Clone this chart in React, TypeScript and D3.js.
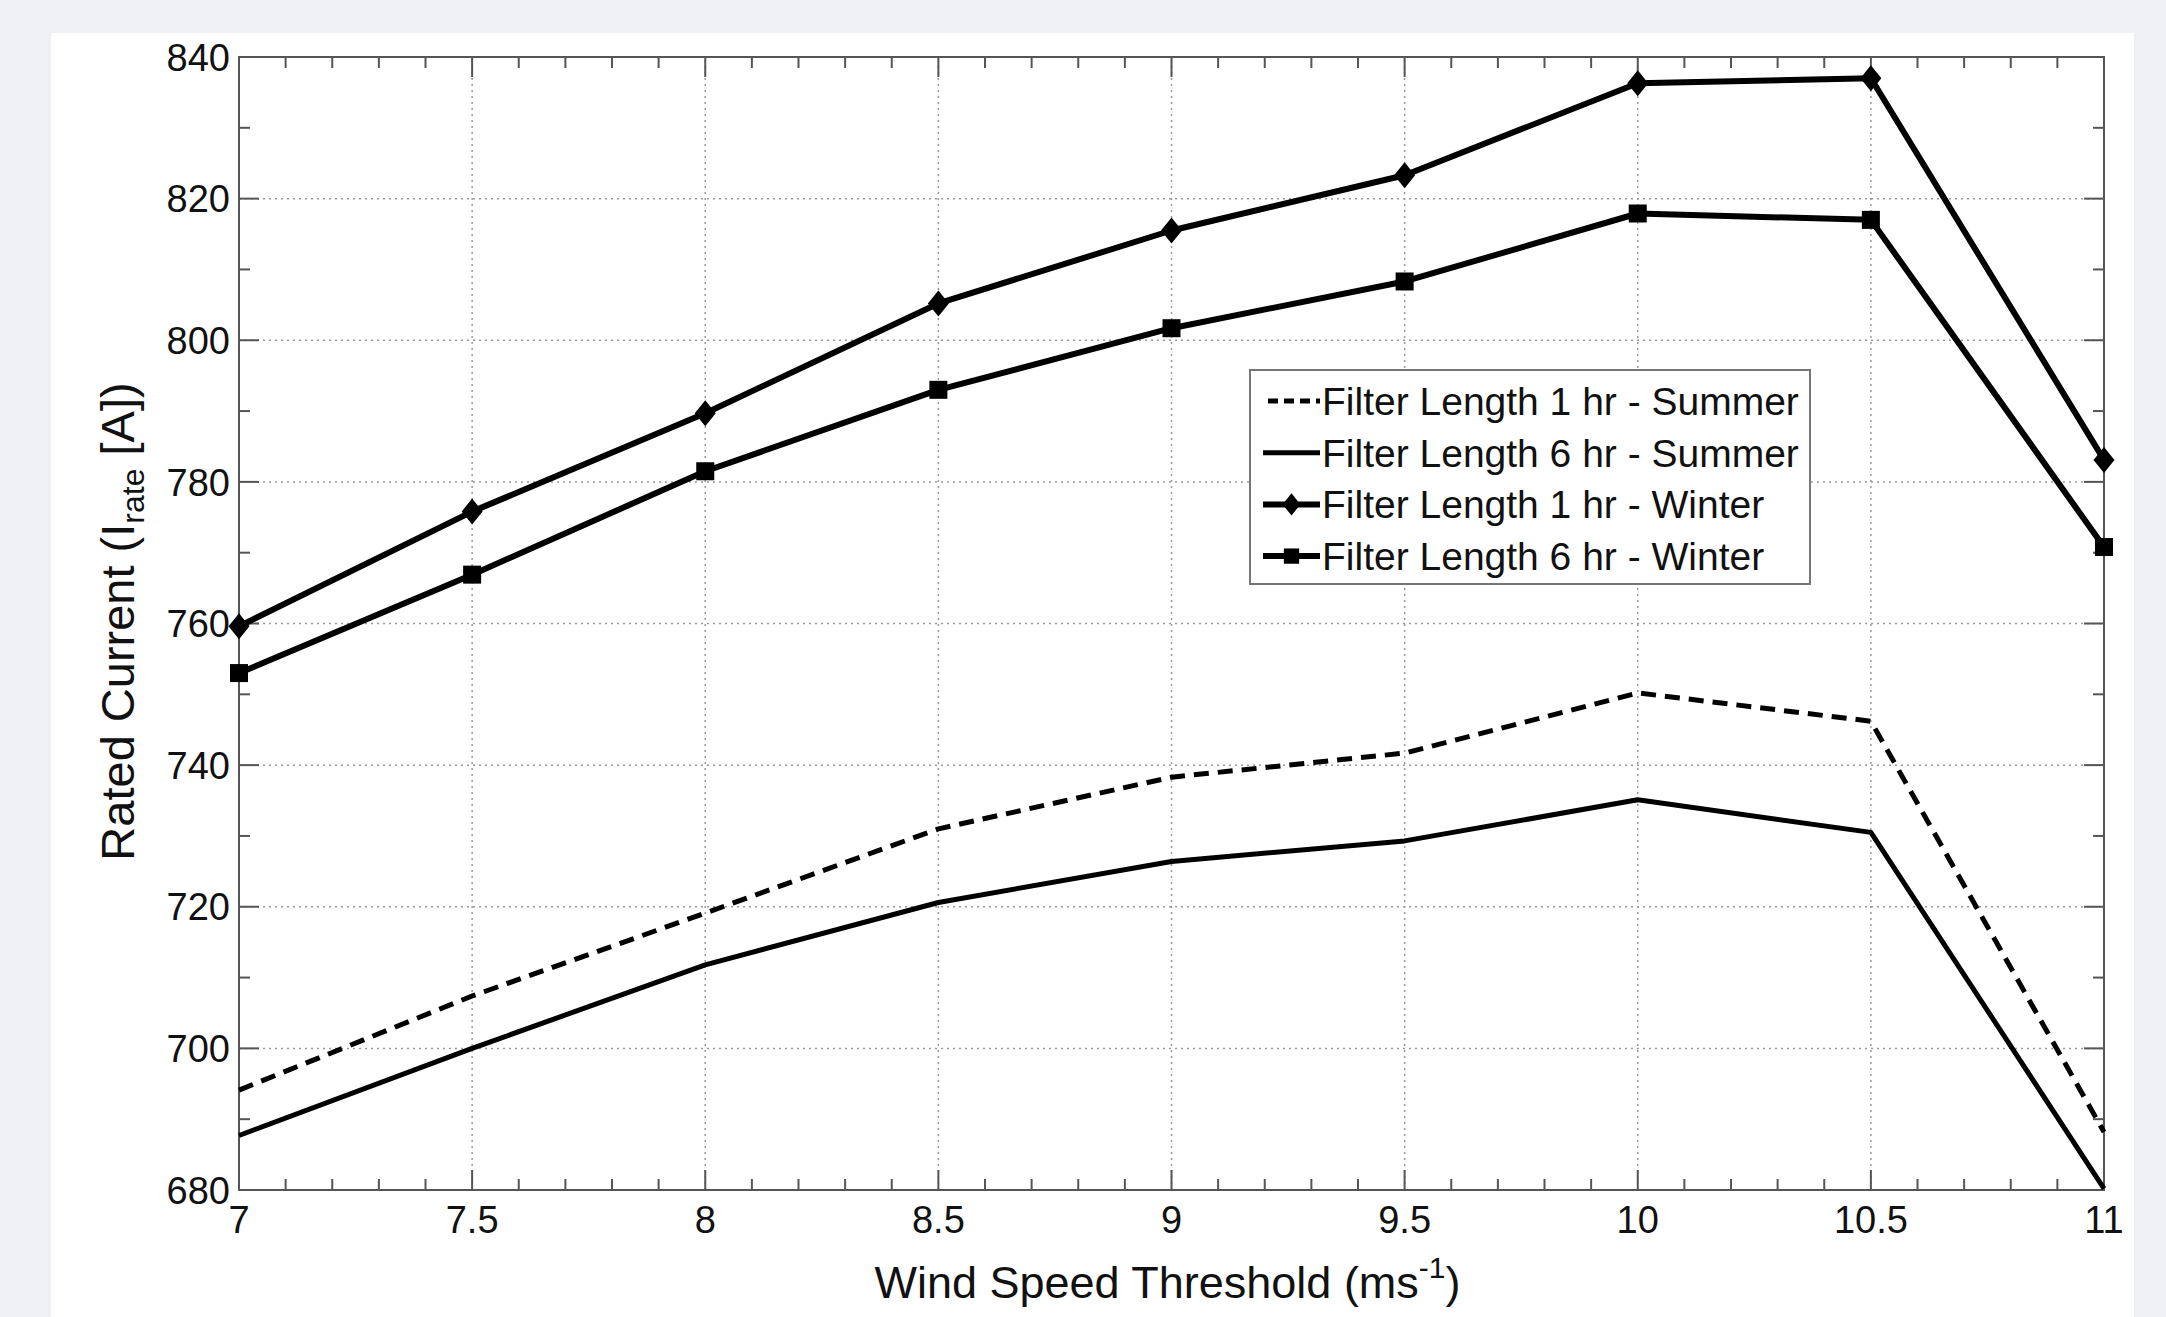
import React from 'react'
import * as d3 from 'd3'

// wind speed threshold (m/s)
const windSpeed = [7, 7.5, 8, 8.5, 9, 9.5, 10, 10.5, 11]

// rated current [A]
const summer1hr = [694.1, 707.4, 719.1, 731.0, 738.3, 741.7, 750.2, 746.2, 688.2]
const summer6hr = [687.7, 700.0, 711.8, 720.6, 726.4, 729.3, 735.1, 730.5, 680.2]
const winter1hr = [759.6, 775.8, 789.7, 805.2, 815.5, 823.3, 836.3, 837.0, 783.1]
const winter6hr = [753.0, 766.9, 781.5, 793.0, 801.7, 808.3, 817.9, 817.0, 770.8]

const seriesLabels = [
  'Filter Length 1 hr - Summer',
  'Filter Length 6 hr - Summer',
  'Filter Length 1 hr - Winter',
  'Filter Length 6 hr - Winter',
]

const xTickValues = [7, 7.5, 8, 8.5, 9, 9.5, 10, 10.5, 11]
const yTickValues = [680, 700, 720, 740, 760, 780, 800, 820, 840]

const FONT = '"Liberation Sans", Arial, Helvetica, sans-serif'

function diamondPath(cx: number, cy: number, w: number, h: number) {
  return `M${cx},${cy - h / 2}L${cx + w / 2},${cy}L${cx},${cy + h / 2}L${cx - w / 2},${cy}Z`
}

function Marker({ kind, cx, cy, scale = 1 }: { kind: string; cx: number; cy: number; scale?: number }) {
  if (kind === 'diamond') {
    return <path d={diamondPath(cx, cy, 21 * scale, 26 * scale)} fill="#000" />
  }
  if (kind === 'square') {
    const s = 18 * scale
    return <rect x={cx - s / 2} y={cy - s / 2} width={s} height={s} fill="#000" />
  }
  return null
}

export default function App() {
  const width = 2166
  const height = 1317

  const x = d3.scaleLinear().domain([7, 11]).range([239, 2104])
  const y = d3.scaleLinear().domain([680, 840]).range([1190, 57])
  const [x0, x1] = x.range()
  const [y0, y1] = y.range() // y0 bottom, y1 top

  const series = [
    { label: seriesLabels[0], values: summer1hr, dash: '15 9', marker: 'none', w: 5 },
    { label: seriesLabels[1], values: summer6hr, dash: null, marker: 'none', w: 5 },
    { label: seriesLabels[2], values: winter1hr, dash: null, marker: 'diamond', w: 6 },
    { label: seriesLabels[3], values: winter6hr, dash: null, marker: 'square', w: 6 },
  ]

  const line = d3.line<number>()
    .x((_, i) => x(windSpeed[i]))
    .y(d => y(d))

  const xMinor = d3.range(70, 111).map(v => v / 10)
  const yMinor = d3.range(680, 841, 10)

  const majorLen = 20
  const minorLen = 11
  const axisColor = '#555'

  // legend layout
  const legend = { left: 1250, top: 370, width: 560, height: 214, rowY0: 401, rowGap: 51.7 }

  return (
    <svg width={width} height={height} style={{ position: 'absolute', left: 0, top: 0 }}
      fontFamily={FONT}>
      <rect x={0} y={0} width={width} height={height} fill="#eef0f6" />
      <rect x={51} y={33} width={2083} height={height - 33} fill="#fff" />

      {/* grid */}
      <g stroke="#9a9a9a" strokeWidth={1.5} strokeDasharray="2 4">
        {xTickValues.slice(1, -1).map(v => (
          <line key={'gx' + v} x1={x(v)} x2={x(v)} y1={y0} y2={y1} />
        ))}
        {yTickValues.slice(1, -1).map(v => (
          <line key={'gy' + v} x1={x0} x2={x1} y1={y(v)} y2={y(v)} />
        ))}
      </g>

      {/* ticks on all four sides, pointing inward */}
      <g stroke={axisColor} strokeWidth={2}>
        {xMinor.map(v => {
          const major = Math.abs(v * 2 - Math.round(v * 2)) < 1e-6
          const len = major ? majorLen : minorLen
          return (
            <g key={'xt' + v}>
              <line x1={x(v)} x2={x(v)} y1={y0} y2={y0 - len} />
              <line x1={x(v)} x2={x(v)} y1={y1} y2={y1 + len} />
            </g>
          )
        })}
        {yMinor.map(v => {
          const len = v % 20 === 0 ? majorLen : minorLen
          return (
            <g key={'yt' + v}>
              <line x1={x0} x2={x0 + len} y1={y(v)} y2={y(v)} />
              <line x1={x1} x2={x1 - len} y1={y(v)} y2={y(v)} />
            </g>
          )
        })}
      </g>

      {/* plot frame */}
      <rect x={x0} y={y1} width={x1 - x0} height={y0 - y1} fill="none" stroke={axisColor} strokeWidth={2} />

      {/* series */}
      {series.map(s => (
        <g key={s.label}>
          <path d={line(s.values) || ''} fill="none" stroke="#000" strokeWidth={s.w}
            strokeDasharray={s.dash || undefined} strokeLinejoin="round" />
          {s.values.map((v, i) => (
            <Marker key={i} kind={s.marker} cx={x(windSpeed[i])} cy={y(v)} />
          ))}
        </g>
      ))}

      {/* tick labels */}
      <g fontSize={38} fill="#111">
        {yTickValues.map(v => (
          <text key={'yl' + v} x={x0 - 9} y={y(v)} dy="0.36em" textAnchor="end">{v}</text>
        ))}
        {xTickValues.map(v => (
          <text key={'xl' + v} x={x(v)} y={y0 + 43} textAnchor="middle">{v}</text>
        ))}
      </g>

      {/* axis titles */}
      <text x={(x0 + x1) / 2 - 4} y={1298} fontSize={45} textAnchor="middle" fill="#111">
        Wind Speed Threshold (ms
        <tspan fontSize={30} dy={-20}>-1</tspan>
        <tspan dy={20}>)</tspan>
      </text>
      <text transform={`translate(134, ${(y0 + y1) / 2 - 2}) rotate(-90)`} fontSize={47}
        textAnchor="middle" fill="#111">
        Rated Current (I
        <tspan fontSize={32} dy={10}>rate</tspan>
        <tspan dy={-10}> [A])</tspan>
      </text>

      {/* legend */}
      <g>
        <rect x={legend.left} y={legend.top} width={legend.width} height={legend.height}
          fill="#fff" stroke="#777" strokeWidth={2} />
        {series.map((s, i) => {
          const cy = legend.rowY0 + i * legend.rowGap
          const lx0 = legend.left + 13
          const lx1 = legend.left + 70
          return (
            <g key={'lg' + i}>
              <line x1={s.dash ? lx0 + 5 : lx0} x2={lx1} y1={cy} y2={cy} stroke="#000"
                strokeWidth={s.w} strokeDasharray={s.dash ? '10 6' : undefined} />
              <Marker kind={s.marker} cx={(lx0 + lx1) / 2} cy={cy} scale={0.85} />
              <text x={legend.left + 72} y={cy} dy="0.36em" fontSize={39} fill="#111">{s.label}</text>
            </g>
          )
        })}
      </g>
    </svg>
  )
}
